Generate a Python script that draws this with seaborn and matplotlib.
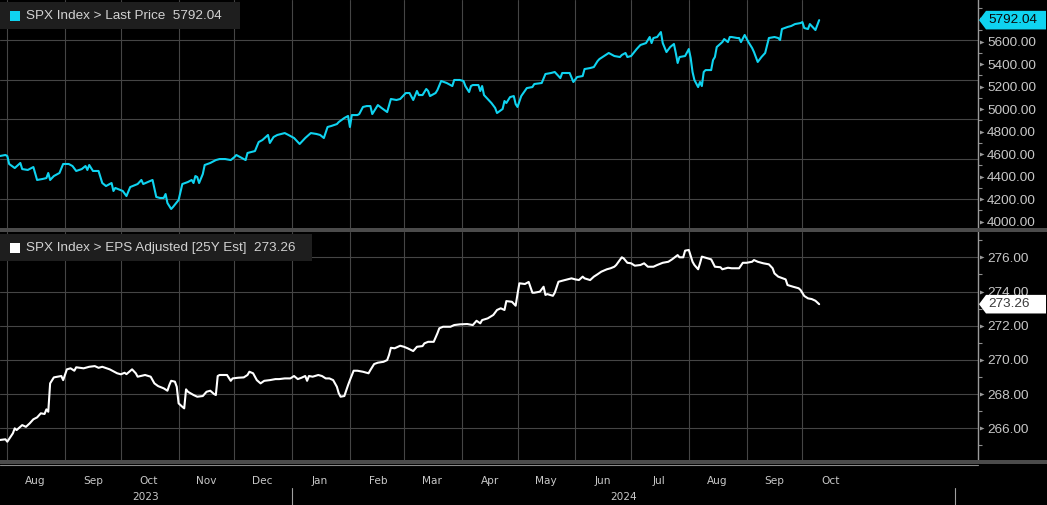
import matplotlib
matplotlib.use('Agg')
import numpy as np
import pandas as pd
import matplotlib.pyplot as plt
import matplotlib.dates as mdates
import matplotlib.ticker as mticker
import matplotlib.transforms as mtrans
from matplotlib.patches import Rectangle, Polygon
from matplotlib.lines import Line2D
from matplotlib.path import Path
from matplotlib import font_manager
import seaborn as sns

# ---------------- data ----------------
BASE_DATE = pd.Timestamp('2023-08-01')

spx_day = [-4, -1, 0, 1, 4, 7, 8, 11, 14, 16, 19, 21, 22, 23, 25, 28, 30, 33, 35, 37, 40, 42, 43, 44, 46, 49,
           51, 53, 56, 57, 58, 62, 64, 66, 70, 72, 73, 78, 80, 82, 84, 85, 86, 88, 89, 92, 94, 97, 99, 100,
           101, 102, 103, 105, 106, 109, 112, 114, 117, 120, 122, 123, 126, 128, 129, 133, 135, 137, 140,
           141, 143, 145, 149, 151, 154, 157, 160, 163, 166, 168, 170, 172, 174, 177, 178, 181, 183, 184,
           185, 188, 189, 191, 193, 195, 196, 199, 201, 204, 206, 209, 211, 214, 216, 218, 220, 221, 223,
           225, 226, 227, 230, 231, 233, 236, 239, 240, 243, 245, 246, 248, 249, 250, 253, 254, 255, 256,
           258, 260, 262, 263, 266, 267, 268, 270, 272, 273, 274, 276, 279, 282, 283, 287, 289, 292, 294,
           295, 297, 298, 302, 304, 306, 309, 310, 313, 315, 317, 318, 323, 326, 329, 330, 332, 333, 335,
           338, 340, 343, 345, 346, 347, 349, 351, 352, 354, 356, 358, 359, 360, 361, 364, 366, 367, 368,
           369, 371, 372, 373, 374, 375, 378, 379, 380, 381, 384, 385, 387, 388, 389, 392, 393, 394, 396,
           398, 400, 401, 403, 405, 407, 409, 412, 414, 415, 416, 419, 421, 423, 426, 427, 428, 430, 431,
           433, 434, 436]
spx_value = [4584, 4593, 4584, 4513, 4477, 4522, 4468, 4460, 4486, 4371, 4380, 4388, 4433, 4371, 4406, 4433,
             4513, 4513, 4495, 4451, 4468, 4495, 4460, 4504, 4451, 4451, 4344, 4317, 4344, 4273, 4300, 4273,
             4228, 4308, 4335, 4371, 4335, 4371, 4220, 4211, 4211, 4246, 4166, 4113, 4131, 4193, 4335, 4353,
             4371, 4344, 4406, 4397, 4344, 4424, 4504, 4522, 4548, 4557, 4557, 4548, 4575, 4593, 4566, 4548,
             4611, 4628, 4708, 4726, 4771, 4700, 4753, 4771, 4788, 4771, 4744, 4691, 4744, 4788, 4780, 4771,
             4744, 4842, 4851, 4868, 4886, 4922, 4940, 4842, 4948, 4948, 4957, 5020, 5028, 5028, 4957, 5037,
             5011, 4975, 5091, 5082, 5091, 5144, 5144, 5082, 5162, 5126, 5126, 5180, 5162, 5117, 5144, 5171,
             5251, 5233, 5206, 5260, 5260, 5251, 5206, 5153, 5206, 5215, 5215, 5162, 5206, 5126, 5091, 5055,
             5011, 4966, 5002, 5073, 5055, 5108, 5117, 5046, 5020, 5117, 5188, 5197, 5224, 5233, 5313, 5322,
             5331, 5313, 5277, 5322, 5322, 5242, 5286, 5295, 5357, 5366, 5375, 5428, 5446, 5500, 5473, 5464,
             5482, 5500, 5464, 5473, 5535, 5571, 5588, 5642, 5588, 5633, 5642, 5686, 5588, 5508, 5553, 5580,
             5500, 5411, 5464, 5473, 5535, 5455, 5331, 5260, 5197, 5242, 5206, 5331, 5348, 5348, 5437, 5464,
             5553, 5597, 5624, 5597, 5642, 5642, 5633, 5633, 5597, 5660, 5597, 5544, 5508, 5420, 5464, 5500,
             5633, 5642, 5633, 5615, 5713, 5731, 5740, 5757, 5766, 5775, 5722, 5713, 5757, 5722, 5704, 5792.04]

eps_day = [-4, -1, 0, 3, 4, 5, 8, 10, 12, 14, 16, 18, 20, 21, 22, 23, 25, 27, 29, 30, 32, 34, 36, 37, 41, 44,
           47, 49, 51, 55, 59, 61, 63, 64, 67, 69, 70, 74, 77, 79, 81, 84, 86, 87, 88, 90, 91, 92, 94, 95,
           96, 97, 100, 102, 105, 107, 109, 111, 112, 113, 114, 118, 120, 121, 124, 127, 129, 130, 132, 134,
           136, 138, 141, 144, 146, 149, 152, 154, 156, 158, 160, 161, 162, 164, 167, 169, 171, 173, 175,
           177, 178, 179, 181, 183, 184, 186, 188, 191, 194, 195, 197, 199, 202, 204, 205, 206, 208, 211,
           213, 215, 218, 220, 223, 224, 226, 229, 231, 232, 234, 238, 240, 243, 247, 250, 252, 254, 255,
           258, 261, 263, 265, 267, 268, 271, 273, 274, 275, 278, 280, 282, 283, 286, 288, 289, 290, 293,
           294, 296, 298, 301, 303, 305, 307, 309, 310, 313, 315, 317, 319, 322, 324, 326, 327, 330, 331,
           333, 335, 337, 340, 342, 344, 347, 349, 352, 355, 357, 360, 361, 363, 364, 366, 368, 369, 371,
           372, 373, 376, 378, 380, 383, 384, 387, 389, 393, 395, 397, 400, 401, 403, 406, 409, 411, 412,
           414, 418, 419, 422, 425, 426, 428, 430, 432, 434, 436]
eps_value = [265.32, 265.36, 265.22, 265.71, 266.00, 265.90, 266.19, 266.09, 266.29, 266.53, 266.64, 266.88,
             266.84, 267.11, 266.97, 268.63, 268.98, 269.02, 269.06, 268.82, 269.45, 269.51, 269.37, 269.57,
             269.51, 269.60, 269.64, 269.54, 269.60, 269.45, 269.22, 269.16, 269.25, 269.17, 269.45, 269.22,
             269.02, 269.12, 269.02, 268.63, 268.47, 268.34, 268.20, 268.53, 268.78, 268.73, 268.43, 267.46,
             267.26, 267.17, 268.28, 268.14, 267.95, 267.85, 267.89, 268.14, 268.20, 268.01, 267.95, 269.06,
             269.12, 269.12, 268.78, 268.92, 268.96, 268.98, 269.12, 269.31, 269.22, 268.82, 268.63, 268.78,
             268.82, 268.88, 268.88, 268.92, 268.92, 269.06, 268.88, 268.96, 269.06, 268.78, 269.06, 269.02,
             269.12, 269.06, 268.92, 268.92, 268.82, 268.43, 268.05, 267.85, 267.89, 268.53, 268.82, 269.37,
             269.37, 269.31, 269.22, 269.41, 269.76, 269.84, 269.89, 269.99, 270.29, 270.71, 270.68, 270.83,
             270.77, 270.68, 270.52, 270.77, 270.81, 270.97, 271.06, 271.06, 271.56, 271.85, 271.94, 271.94,
             272.04, 272.08, 272.10, 272.04, 272.29, 272.14, 272.33, 272.43, 272.63, 272.92, 273.02, 272.92,
             273.44, 273.40, 273.17, 273.85, 274.48, 274.44, 274.56, 273.93, 273.93, 273.99, 274.28, 273.80,
             273.85, 273.75, 273.93, 274.57, 274.63, 274.71, 274.77, 274.71, 274.67, 274.87, 274.77, 274.67,
             274.87, 275.01, 275.16, 275.30, 275.36, 275.45, 275.55, 276.00, 275.94, 275.68, 275.65, 275.51,
             275.55, 275.65, 275.45, 275.45, 275.55, 275.68, 275.74, 275.88, 276.13, 276.00, 276.00, 276.39,
             276.43, 275.74, 275.55, 275.30, 275.65, 276.04, 275.94, 275.88, 275.45, 275.42, 275.30, 275.39,
             275.36, 275.36, 275.68, 275.68, 275.74, 275.84, 275.74, 275.65, 275.59, 275.36, 275.06, 274.87,
             274.71, 274.38, 274.28, 274.19, 274.09, 273.74, 273.60, 273.56, 273.46, 273.26]

spx_ticks = [4000, 4200, 4400, 4600, 4800, 5000, 5200, 5400, 5600, 5800]
eps_ticks = [266, 268, 270, 272, 274, 276]
spx_name = 'SPX Index > Last Price'
eps_name = 'SPX Index > EPS Adjusted [25Y Est]'
spx_last = 5792.04
eps_last = 273.26
first_month, last_month = '2023-08-01', '2024-10-01'
year_labels = ['2023', '2024']

# ---------------- style ----------------
CYAN = '#0fd3f0'
GRID = '#454545'
TXT = '#c8c8c8'
BAR = '#4b4b4b'

sns.set_style('dark', {'axes.facecolor': 'black', 'figure.facecolor': 'black'})
avail = {f.name for f in font_manager.fontManager.ttflist}
LAB = 'Liberation Sans' if 'Liberation Sans' in avail else 'DejaVu Sans'
plt.rcParams['font.family'] = [LAB, 'DejaVu Sans']

W, H = 1047, 505
fig = plt.figure(figsize=(W / 100, H / 100), dpi=100, facecolor='black')
ax1 = fig.add_axes([0, 1 - 228 / H, 978 / W, 228 / H])
ax2 = fig.add_axes([0, 1 - 460 / H, 978 / W, 228 / H], sharex=ax1)

spx = pd.DataFrame({'date': BASE_DATE + pd.to_timedelta(spx_day, unit='D'), 'value': spx_value})
eps = pd.DataFrame({'date': BASE_DATE + pd.to_timedelta(eps_day, unit='D'), 'value': eps_value})

sns.lineplot(data=spx, x='date', y='value', ax=ax1, color=CYAN, lw=1.5, estimator=None, legend=False, zorder=3)
sns.lineplot(data=eps, x='date', y='value', ax=ax2, color='white', lw=1.5, estimator=None, legend=False, zorder=3)

ax1.set_xlim(BASE_DATE - pd.Timedelta(days=3.92), BASE_DATE + pd.Timedelta(days=521.3))
ax1.set_ylim(3944, 5971)
ax2.set_ylim(264.15, 277.48)

month_starts = pd.date_range(first_month, last_month, freq='MS')
month_mids = month_starts + pd.Timedelta(days=15)

for ax in (ax1, ax2):
    ax.set_facecolor('black')
    ax.set_xlabel('')
    ax.set_ylabel('')
    for s in ('top', 'left', 'bottom'):
        ax.spines[s].set_visible(False)
    ax.spines['right'].set_color('#9a9a9a')
    ax.spines['right'].set_linewidth(1.0)
    ax.yaxis.tick_right()

ax2.xaxis.set_major_locator(mticker.FixedLocator(mdates.date2num(month_starts)))
ax2.xaxis.set_major_formatter(mticker.NullFormatter())
ax2.xaxis.set_minor_locator(mticker.FixedLocator(mdates.date2num(month_mids)))
ax2.xaxis.set_minor_formatter(mdates.DateFormatter('%b'))

ax1.tick_params(axis='x', which='both', length=0, labelbottom=False)
ax2.tick_params(axis='x', which='major', length=5.8, width=0.8, color='#a0a0a0', direction='out',
                labelbottom=False)
ax2.tick_params(axis='x', which='minor', length=0, pad=11.5, labelsize=7.6, labelcolor=TXT)
for lab in ax2.xaxis.get_minorticklabels():
    lab.set_family('DejaVu Sans')

for ax in (ax1, ax2):
    ax.grid(axis='x', which='major', color=GRID, lw=0.8)
ax1.grid(axis='y', visible=False)
ax2.grid(axis='y', which='major', color=GRID, lw=0.8)

# top panel horizontal grid (independent of tick values, as in the reference)
for f in (0.8246, 0.6491, 0.4781, 0.3026, 0.1272):
    ax1.plot([0, 1], [f, f], transform=ax1.transAxes, color=GRID, lw=0.8, zorder=0.6)

tri = Path([(1.0, -1.3), (4.0, 0.0), (1.0, 1.3), (1.0, -1.3)],
           [Path.MOVETO, Path.LINETO, Path.LINETO, Path.CLOSEPOLY])
for ax, ticks, minor in ((ax1, spx_ticks, 100), (ax2, eps_ticks, 1)):
    ax.set_yticks(ticks)
    ax.yaxis.set_major_formatter(mticker.StrMethodFormatter('{x:.2f}'))
    ax.yaxis.set_minor_locator(mticker.MultipleLocator(minor))
    ax.tick_params(axis='y', which='major', length=0, pad=6.5, labelsize=9.7, labelcolor=TXT)
    ax.tick_params(axis='y', which='minor', length=3.2, width=0.8, color='#8c8c8c', direction='out')
    for t in ax.yaxis.get_major_ticks():
        ln = t.tick2line
        ln.set_marker(tri)
        ln.set_markersize(8.6)
        ln.set_markerfacecolor('#9a9a9a')
        ln.set_markeredgecolor('#9a9a9a')
        ln.set_markeredgewidth(0)

# ---------------- frame decorations ----------------
def fr(px, py):
    return px / W, 1 - py / H

for y0, y1 in ((228, 232), (460, 464)):
    fig.add_artist(Rectangle(fr(0, y1), 1, (y1 - y0) / H, transform=fig.transFigure,
                             facecolor=BAR, edgecolor='none', zorder=5))
fig.add_artist(Line2D([0, 978 / W], [1 - 464.6 / H] * 2, transform=fig.transFigure,
                      color='#8a8a8a', lw=0.8, zorder=5))

# year labels and separators
xmin = ax1.get_xlim()[0]
bt = mtrans.blended_transform_factory(ax2.transData, fig.transFigure)
year_bounds = [xmin, mdates.date2num(pd.Timestamp('2024-01-01')), mdates.date2num(pd.Timestamp('2024-12-22'))]
for i, yl in enumerate(year_labels):
    cx = 0.5 * (year_bounds[i] + year_bounds[i + 1])
    ax2.text(cx, 1 - 497.5 / H, yl, transform=bt, ha='center', va='center', fontsize=7.6,
             color=TXT, family='DejaVu Sans', clip_on=False)
for xb in year_bounds[1:]:
    ax2.plot([xb, xb], [1 - 488 / H, 0], transform=bt, color='#a0a0a0', lw=0.8, clip_on=False)

# legend boxes
for (x1, y0, y1), (sq_y0, sq_y1), col, name, last in (
        ((240, 2, 28.7), (11, 20.7), CYAN, spx_name, spx_last),
        ((311.7, 234, 260.7), (242.7, 252.7), 'white', eps_name, eps_last)):
    fig.add_artist(Rectangle(fr(0, y1), x1 / W, (y1 - y0) / H, transform=fig.transFigure,
                             facecolor='#1e1e1e', edgecolor='none', zorder=6))
    fig.add_artist(Rectangle(fr(10, sq_y1), 10 / W, (sq_y1 - sq_y0) / H, transform=fig.transFigure,
                             facecolor=col, edgecolor='none', zorder=7))
    fig.text(26 / W, 1 - ((y0 + y1) / 2 + 0.3) / H, f'{name}  {last:.2f}', fontsize=9.7,
             color='#d2d2d2', va='center', ha='left', zorder=8)

# last-value tags on the right axis
fig.canvas.draw()
for ax, val, fc, tc in ((ax1, spx_last, CYAN, '#0a0a0a'), (ax2, eps_last, 'white', '#3a3a3a')):
    ydisp = ax.transData.transform((0, val))[1]
    cy = ydisp / H
    hh = 9.3 / H
    verts = [(979 / W, cy), (986 / W, cy + hh), (1046 / W, cy + hh), (1046 / W, cy - hh), (986 / W, cy - hh)]
    fig.add_artist(Polygon(verts, closed=True, transform=fig.transFigure, facecolor=fc,
                           edgecolor='none', zorder=9))
    fig.text(988 / W, cy, f'{val:.2f}', fontsize=9.7, color=tc, va='center', ha='left', zorder=10)

fig.savefig('out.png', dpi=100, facecolor='black')
